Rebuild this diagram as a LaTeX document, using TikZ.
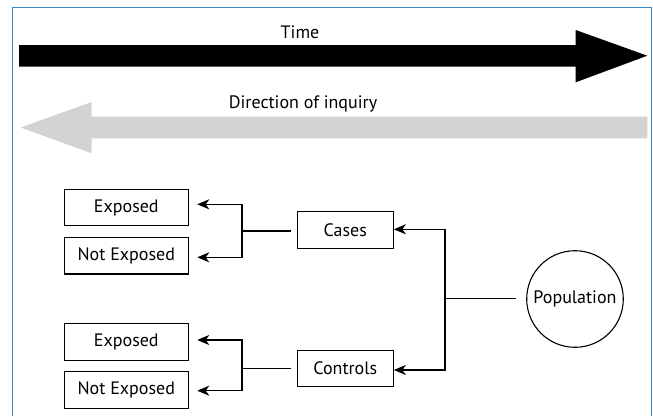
\documentclass[tikz,border=0pt]{standalone}
\usepackage{fontspec}
\setmainfont{PT Sans}
\usetikzlibrary{arrows.meta,positioning,calc}
\definecolor{frameblue}{HTML}{3A87C8}
\definecolor{inqgray}{HTML}{D1D3D4}
\tikzset{
  txt/.style={font=\fontsize{18}{20}\selectfont},
  box/.style={draw,line width=1.1pt,minimum width=124pt,minimum height=36.5pt,inner sep=0pt,txt},
  midbox/.style={box,minimum width=96pt},
  popc/.style={draw,circle,line width=1.1pt,minimum size=96.6pt,inner sep=0pt,txt},
  link/.style={line width=1.3pt},
  arr/.style={link,-{Stealth[length=12pt,width=10pt,inset=3.5pt]}},
  lbl/.style={inner sep=0pt,txt},
}
\begin{document}
\begin{tikzpicture}[x=1pt,y=-1pt]
\useasboundingbox (0,0) rectangle (653,416);
\fill[white] (0,0) rectangle (653,416);
% frame
\draw[frameblue,line width=1.6pt] (12.5,416) -- (12.5,7.3) -- (651.5,7.3) -- (651.5,416);
% big arrows
\fill[black] (19,45) -- (575.7,45) -- (575.7,30) -- (647.3,55.7) -- (575.7,82.3) -- (575.7,66.7) -- (19,66.7) -- cycle;
\fill[inqgray] (647.3,116.7) -- (91.7,116.7) -- (91.7,102) -- (20.7,127.5) -- (91.7,153.3) -- (91.7,138.3) -- (647.3,138.3) -- cycle;
\node[lbl] (time) at (300,32) {Time};
\node[lbl] (inq) at (303,104) {Direction of inquiry};
% boxes
\node[box] (e1) at (126.3,207.5) {Exposed};
\node[box] (n1) at (126.3,255.7) {Not Exposed};
\node[box] (e2) at (126.3,342) {Exposed};
\node[box] (n2) at (126.3,390) {Not Exposed};
\node[midbox] (cases) at (345.3,230) {Cases};
\node[midbox] (controls) at (345.3,368.3) {Controls};
\node[popc] (pop) at (575,299) {Population};
% junctions
\coordinate (j1) at (242,231);
\coordinate (j2) at (242,368.3);
\coordinate (j3) at (445,298.3);
% upper bracket
\draw[link] ([xshift=-5.6pt,yshift=-1pt]cases.west) -- (j1);
\draw[arr] (j1) |- ([xshift=8.4pt,yshift=3.2pt]e1.east);
\draw[arr] (j1) |- ([xshift=8.4pt,yshift=-1.6pt]n1.east);
% lower bracket
\draw[link] ([xshift=-5.6pt]controls.west) -- (j2);
\draw[arr] (j2) |- ([xshift=8.4pt,yshift=2pt]e2.east);
\draw[arr] (j2) |- ([xshift=8.4pt,yshift=-0.7pt]n2.east);
% population
\draw[link] ([xshift=-10pt,yshift=0.7pt]pop.west) -- (j3);
\draw[arr] (j3) |- ([yshift=0.7pt]cases.east);
\draw[arr] (j3) |- ([yshift=-1.7pt]controls.east);
\end{tikzpicture}
\end{document}
